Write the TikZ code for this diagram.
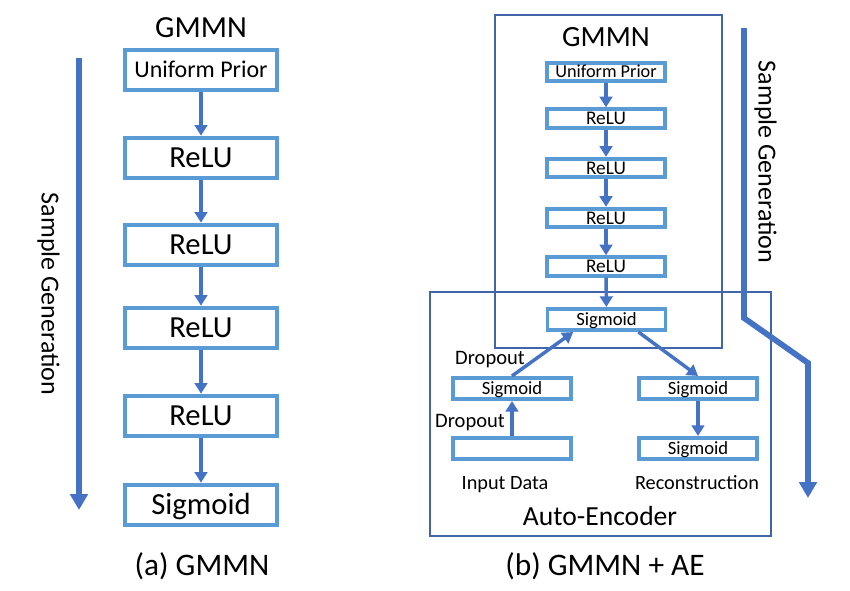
\documentclass[tikz,border=0pt]{standalone}
\usepackage{fontspec}
\setmainfont{Carlito}
\usetikzlibrary{arrows.meta,calc,positioning}
\definecolor{boxblue}{HTML}{5B9BD5}
\definecolor{arrowblue}{HTML}{4472C4}
\definecolor{frameblue}{HTML}{4164AA}
\def\fsz#1{\fontsize{#1}{#1}\selectfont}
\tikzset{
	fs/.style={font=\fsz{#1}, text height=0.644*#1pt, text depth=0pt},
	bigbox/.style={draw=boxblue, line width=3pt, minimum width=114pt, minimum height=30.5pt, inner sep=0pt, fs=23},
	smallbox/.style={draw=boxblue, line width=2.8pt, minimum width=88.5pt, minimum height=14pt, inner sep=0pt, fs=14.5},
	aebox/.style={smallbox, minimum height=16pt, fs=14},
	flow/.style={arrowblue, line width=2.6pt, -{Triangle[length=8pt,width=9.5pt]}},
	gen/.style={arrowblue, line width=4.3pt, line join=miter, -{Triangle[length=12pt,width=13pt]}},
	panelframe/.style={draw=frameblue, line width=1.1pt},
	lbl/.style={inner sep=0pt},
}

\begin{document}
\begin{tikzpicture}[x=0.75pt, y=-0.75pt]
		\useasboundingbox (0,0) rectangle (850,590);
		
		%%%%% (a) GMMN %%%%%
		\node[lbl, fs=23] (titleA) at (201,28) {GMMN};
		\node[bigbox, fs=18] (a0) at (201,70) {Uniform Prior};
		\node[bigbox] (a1) at (201,158) {ReLU};
		\node[bigbox] (a2) at (201,245) {ReLU};
		\node[bigbox] (a3) at (201,328) {ReLU};
		\node[bigbox] (a4) at (201,416) {ReLU};
		\node[bigbox] (a5) at (201,505) {Sigmoid};
		\foreach \i/\j in {0/1,1/2,2/3,3/4,4/5}
			\draw[flow] (a\i) -- (a\j);
		
		\coordinate (genAtop) at (79,58);
		\coordinate (genAend) at (79,510);
		\draw[gen] (genAtop) -- (genAend);
		\node[lbl, rotate=-90, fs=19.5] (genA) at (50,294) {Sample Generation};
		
		\node[lbl, fs=23.5] (capA) at (202,565) {(a) GMMN};
		
		%%%%% (b) GMMN + AE %%%%%
		\draw[panelframe] (430,292) rectangle (771,536);
		\draw[panelframe] (495,15) rectangle (722,348);
		
		\node[lbl, fs=22] (titleB) at (606,37) {GMMN};
		\node[smallbox, fs=13.7] (b0) at (606,72) {Uniform Prior};
		\node[smallbox] (b1) at (606,118.5) {ReLU};
		\node[smallbox] (b2) at (606,168) {ReLU};
		\node[smallbox] (b3) at (606,218) {ReLU};
		\node[smallbox] (b4) at (606,266.5) {ReLU};
		\node[aebox] (b5) at (606.5,319.5) {Sigmoid};
		\foreach \i/\j in {0/1,1/2,2/3,3/4,4/5}
			\draw[flow] (b\i) -- (b\j);
		
		% auto-encoder
		\node[aebox] (enc0) at (512,448.5) {};
		\node[aebox] (enc1) at (512,388.5) {Sigmoid};
		\node[aebox] (dec1) at (698,388.5) {Sigmoid};
		\node[aebox] (dec2) at (698,448.5) {Sigmoid};
		\draw[flow] (enc0) -- (enc1);
		\draw[flow] (enc1.north) -- ([xshift=-25pt]b5.south);
		\draw[flow] ([xshift=24pt]b5.south) -- (dec1.north);
		\draw[flow] (dec1) -- (dec2);
		
		\node[lbl, fs=15.4] (drop1) at (490,358) {Dropout};
		\node[lbl, fs=15.4] (drop0) at (470,421) {Dropout};
		\node[lbl, fs=15.2] (inLbl) at (505,483) {Input Data};
		\node[lbl, fs=15.2] (recLbl) at (697,483) {Reconstruction};
		\node[lbl, fs=20.7] (aeLbl) at (600,517) {Auto-Encoder};
		
		\coordinate (genBtop) at (744,28);
		\coordinate (genBk1) at (744,318);
		\coordinate (genBk2) at (808,363);
		\coordinate (genBend) at (808,498);
		\draw[gen] (genBtop) -- (genBk1) -- (genBk2) -- (genBend);
		\node[lbl, rotate=-90, fs=19.5] (genB) at (767,162) {Sample Generation};
		
		\node[lbl, fs=23.5] (capB) at (605,565) {(b) GMMN + AE};
		
\end{tikzpicture}
\end{document}
